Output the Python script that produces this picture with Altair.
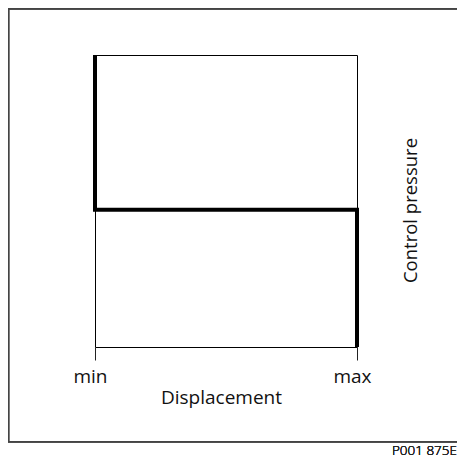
import altair as alt
import pandas as pd

# Step curve: control pressure vs displacement
disp_pos = [0, 0, 100, 100]          # min .. max
pressure = [100, 47, 47, 0]
step_order = [0, 1, 2, 3]
tick_values = [0, 100]
tick_labels = ["min", "max"]

df = pd.DataFrame({"disp": disp_pos, "press": pressure, "k": step_order})

FONT = "Open Sans"
W, H = 262, 292

x_enc = alt.X(
    "disp:Q",
    scale=alt.Scale(domain=[0, 100], nice=False, zero=False),
    axis=alt.Axis(
        values=tick_values,
        labelExpr="datum.value == 0 ? 'min' : 'max'",
        title="Displacement",
        grid=False,
        domain=False,
        tickSize=13,
        tickColor="#222",
        tickWidth=1,
        labelFont=FONT,
        labelFontSize=19,
        labelColor="#111",
        labelPadding=7,
        labelOffset=-5,
        labelFlush=False,
        titleFont=FONT,
        titleFontSize=19,
        titleFontWeight="normal",
        titleColor="#111",
        titlePadding=2,
        titleX=126,
    ),
)
y_enc = alt.Y(
    "press:Q",
    scale=alt.Scale(domain=[0, 100], nice=False, zero=False),
    axis=alt.Axis(
        orient="right",
        title="Control pressure",
        grid=False,
        domain=False,
        ticks=False,
        labels=False,
        titleFont=FONT,
        titleFontSize=18.5,
        titleFontWeight="normal",
        titleColor="#111",
        titleAngle=270,
        titleAlign="center",
        titleBaseline="middle",
        titleX=53,
        titleY=155,
    ),
)

line = alt.Chart(df).mark_line(color="black", strokeWidth=4, strokeJoin="miter").encode(
    x=x_enc, y=y_enc, order="k:Q"
)

frame = alt.Chart(df).mark_rect(fill=None, stroke="#444", strokeWidth=1.5).encode(
    x=alt.value(-86.5), x2=alt.value(420), y=alt.value(-46.3), y2=alt.value(386.7)
)

code = alt.Chart(df).mark_text(
    text="P001 875E", font=FONT, fontSize=13.5, fontWeight=300,
    align="right", baseline="alphabetic", color="#222"
).encode(x=alt.value(362), y=alt.value(400))

chart = alt.layer(frame, line, code).properties(
    width=W,
    height=H,
    autosize=alt.AutoSizeParams(type="none"),
    padding={"left": 87, "top": 47, "right": 100, "bottom": 111},
    background="white",
).configure_view(stroke="black", strokeWidth=1)

chart.save("out.html", embed_options={"renderer": "svg", "actions": False})
